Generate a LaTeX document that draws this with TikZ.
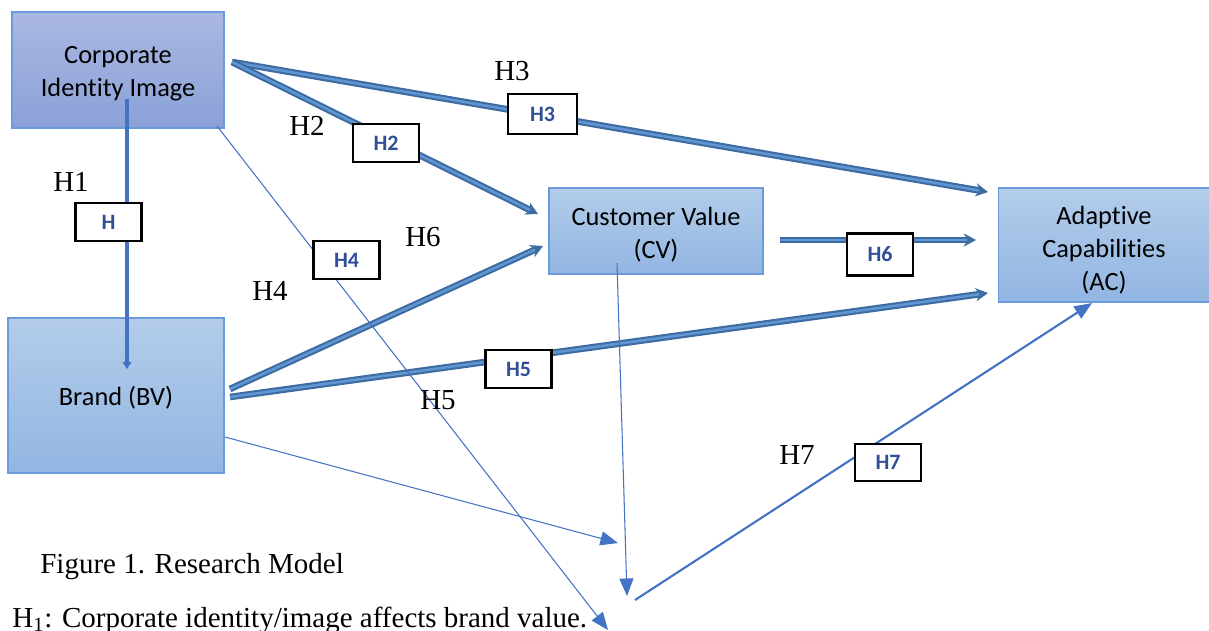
\documentclass[tikz,border=0pt]{standalone}
\usepackage{fontspec}
\setmainfont{Liberation Serif}
\newfontfamily\cfont[Ligatures=NoCommon]{Carlito}
\usetikzlibrary{arrows.meta}
\definecolor{ciitop}{HTML}{AAB8E2}
\definecolor{ciibot}{HTML}{8AA1D8}
\definecolor{boxtop}{HTML}{B3CDEA}
\definecolor{boxbot}{HTML}{92B5E2}
\definecolor{boxedge}{HTML}{6C9BDB}
\definecolor{dblout}{HTML}{3D6CA3}
\definecolor{dblin}{HTML}{6196D2}
\definecolor{lineblue}{HTML}{4472C4}
\definecolor{hblue}{HTML}{2F4F96}
\tikzset{
  concept/.style={draw=boxedge, line width=0.7pt, top color=boxtop, bottom color=boxbot,
    inner sep=0pt},
  concepttext/.style={align=center, inner sep=0pt, font=\cfont\fontsize{15}{18.7}\selectfont},
  hbox/.style={draw=black, line width=1.4pt, fill=white, inner sep=0pt,
    minimum width=1.32cm, minimum height=0.76cm, text=hblue,
    font=\cfont\bfseries\fontsize{12.5}{14}\selectfont},
  hlabel/.style={inner sep=0pt, font=\fontsize{16.5}{19}\selectfont},
  dbl/.style={draw=dblout, double=dblin, line width=1.2pt, double distance=1.4pt,
    -{Stealth[length=7pt,width=7.5pt,fill=dblout]}},
  thinarrow/.style={draw=lineblue, line width=0.6pt, -{Triangle[length=10pt,width=8pt]}},
}
\begin{document}
\begin{tikzpicture}[x=0.02cm,y=-0.02cm]
\useasboundingbox (0,0) rectangle (1209,630);
% concept boxes
\node[concept, top color=ciitop, bottom color=ciibot, minimum width=4.24cm, minimum height=2.32cm] (cii) at (118,70) {};
\node[concept, minimum width=4.32cm, minimum height=3.1cm] (bv) at (116,395.5) {};
\node[concept, minimum width=4.28cm, minimum height=1.72cm] (cv) at (656,231) {};
\node[concept, minimum width=4.22cm, minimum height=2.28cm] (ac) at (1104,245) {};
\node[concepttext] (ciit) at (118,74) {Corporate\\Identity Image};
\node[concepttext] (bvt) at (116,397.5) {Brand (BV)};
\node[concepttext] (cvt) at (656,235) {Customer Value\\(CV)};
\node[concepttext] (act) at (1104,250) {Adaptive\\Capabilities\\(AC)};
% named end points
\coordinate (ciiR) at (232,62);
\coordinate (h3end) at (988,192);
\coordinate (h2end) at (538,214);
\coordinate (cvR) at (780,240);
\coordinate (h6end) at (976,240);
\coordinate (bvA) at (230,389);
\coordinate (bvCVend) at (543,246);
\coordinate (bvB) at (230,397);
\coordinate (bvACend) at (988,293);
\coordinate (ciiS) at (217,126);
\coordinate (h4end) at (608,630);
\coordinate (bvC) at (225,437);
\coordinate (bvDend) at (618,543);
\coordinate (cvS) at (617,263);
\coordinate (cvDend) at (627,596);
\coordinate (h7start) at (635,600);
\coordinate (h7end) at (1092,303);
\coordinate (h1start) at (127,99);
\coordinate (h1end) at (127,369);
% connectors
\draw[draw=lineblue, line width=1.8pt, -{Triangle[length=4pt,width=5pt]}] (h1start) -- (h1end);
\draw[dbl] (ciiR) -- (h3end);
\draw[dbl] (ciiR) -- (h2end);
\draw[dbl] (cvR) -- (h6end);
\draw[dbl] (bvA) -- (bvCVend);
\draw[dbl] (bvB) -- (bvACend);
\draw[thinarrow] (ciiS) -- (h4end);
\draw[thinarrow] (bvC) -- (bvDend);
\draw[thinarrow] (cvS) -- (cvDend);
\draw[thinarrow, line width=1.2pt] (h7start) -- (h7end);
% hypothesis boxes
\node[hbox] (b1) at (108.5,222) {H};
\node[hbox, minimum width=1.38cm, minimum height=0.8cm] (b3) at (542.5,114) {H3};
\node[hbox] (b2) at (386,143) {H2};
\node[hbox] (b4) at (346.5,260) {H4};
\node[hbox, minimum height=0.84cm] (b6) at (880,254.5) {H6};
\node[hbox] (b5) at (518.5,369) {H5};
\node[hbox, minimum height=0.74cm] (b7) at (888,462.5) {H7};
% hypothesis labels
\node[hlabel] (l1) at (71,182) {H1};
\node[hlabel] (l2) at (307,126) {H2};
\node[hlabel] (l3) at (512,71) {H3};
\node[hlabel] (l4) at (270,291) {H4};
\node[hlabel] (l5) at (438,400) {H5};
\node[hlabel] (l6) at (423,237) {H6};
\node[hlabel] (l7) at (797,455) {H7};
% captions
\node[hlabel, anchor=base west] (cap) at (40,573) {Figure 1. Research Model};
\node[hlabel, anchor=base west] (h1txt) at (12,627) {H\textsubscript{1}: Corporate identity/image affects brand value.};
\end{tikzpicture}
\end{document}
